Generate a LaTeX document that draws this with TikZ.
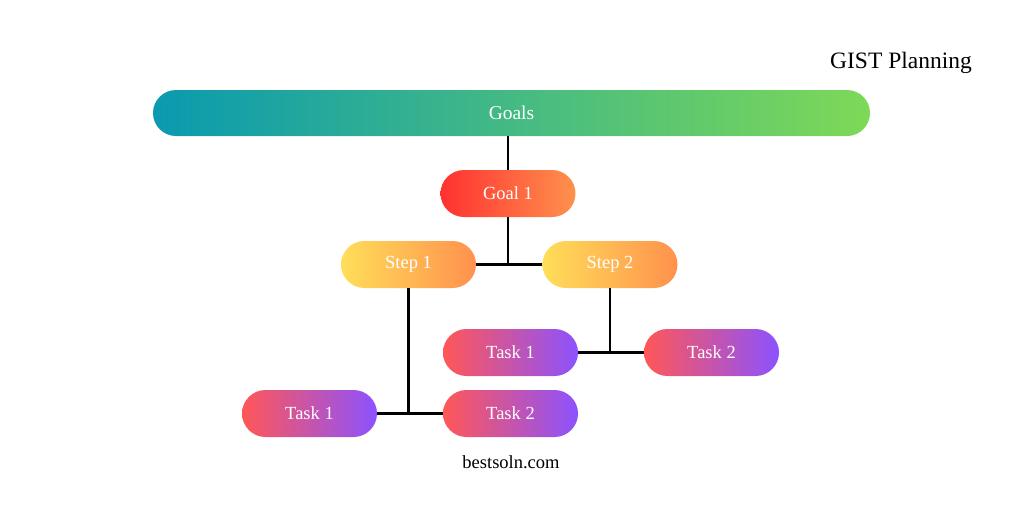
\documentclass[tikz,border=0pt]{standalone}
\usepackage{fontspec}
\setmainfont{Liberation Serif}
\begin{document}
\begin{tikzpicture}[x=1pt,y=-1pt,
  pill/.style={minimum width=135pt,minimum height=47pt,rounded corners=23.5pt,
    inner sep=0pt,text=white,font=\fontsize{18.5}{22}\selectfont},
  goalsbar/.style={pill,minimum width=717pt,minimum height=46pt,rounded corners=23pt,
    left color=goalA,right color=goalB,font=\fontsize{19.5}{23}\selectfont},
  redpill/.style={pill,left color=redA,right color=redB},
  steppill/.style={pill,left color=stepA,right color=stepB},
  taskpill/.style={pill,left color=taskA,right color=taskB},
  link/.style={draw=black,line width=2.5pt}]
\definecolor{goalA}{HTML}{0A9AB0}
\definecolor{goalB}{HTML}{7ED957}
\definecolor{redA}{HTML}{FF3131}
\definecolor{redB}{HTML}{FF914D}
\definecolor{stepA}{HTML}{FFDE59}
\definecolor{stepB}{HTML}{FF914D}
\definecolor{taskA}{HTML}{FF5757}
\definecolor{taskB}{HTML}{8C52FF}
\useasboundingbox[fill=white] (0,0) rectangle (1024,512);

\node[font=\fontsize{23.5}{27}\selectfont] (title) at (901,63) {GIST Planning};
\node[font=\fontsize{18.5}{22}\selectfont] (site) at (511,462) {bestsoln.com};

\node[goalsbar] (goals) at (511.5,113) {Goals};
\node[redpill] (g1) at (508,193.5) {Goal 1};
\node[steppill] (s1) at (408.5,264.5) {Step 1};
\node[steppill] (s2) at (610,264.5) {Step 2};
\node[taskpill] (t21) at (510.5,352.5) {Task 1};
\node[taskpill] (t22) at (711.5,352.5) {Task 2};
\node[taskpill] (t11) at (309.5,413.5) {Task 1};
\node[taskpill] (t12) at (510.5,413.5) {Task 2};

\coordinate (j1) at (g1.south |- s1.east);
\coordinate (j2) at (s2.south |- t21.east);
\coordinate (j3) at (s1.south |- t11.east);

\draw[link] (goals.south -| g1.north) -- (g1.north);
\draw[link] (g1.south) -- (j1);
\draw[link] (s1.east) -- (s2.west);
\draw[link] (s2.south) -- (j2);
\draw[link] (t21.east) -- (t22.west);
\draw[link] (s1.south) -- (j3);
\draw[link] (t11.east) -- (t12.west);
\end{tikzpicture}
\end{document}
